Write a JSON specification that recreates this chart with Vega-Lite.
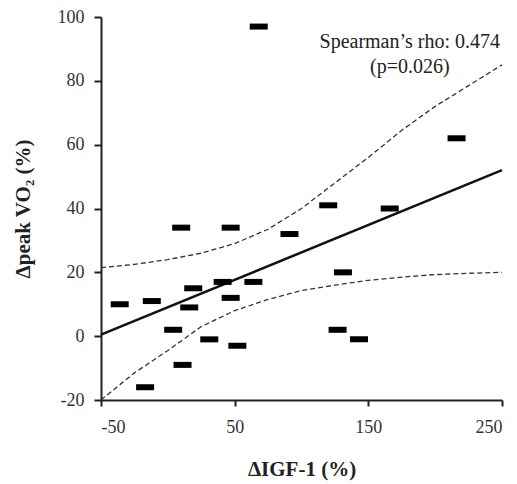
{
  "$schema": "https://vega.github.io/schema/vega-lite/v6.json",
  "width": 401,
  "height": 383,
  "autosize": {"type": "none"},
  "padding": {"left": 101, "top": 17, "right": 15, "bottom": 84},
  "background": "white",
  "config": {
    "view": {"stroke": null},
    "font": "Liberation Serif",
    "axis": {
      "grid": false,
      "domainColor": "#222",
      "domainWidth": 2,
      "tickColor": "#222",
      "tickWidth": 2,
      "tickSize": 7,
      "labelFont": "Liberation Serif",
      "labelFontSize": 18,
      "labelColor": "#333",
      "titleFont": "Liberation Serif",
      "titleFontSize": 21,
      "titleFontWeight": "bold",
      "titleColor": "#222"
    }
  },
  "datasets": {
    "points": [
      {"igf": 68, "vo2": 97},
      {"igf": 216, "vo2": 62},
      {"igf": 120, "vo2": 41},
      {"igf": 166, "vo2": 40},
      {"igf": 91, "vo2": 32},
      {"igf": 10, "vo2": 34},
      {"igf": 47, "vo2": 34},
      {"igf": -36, "vo2": 10},
      {"igf": -12, "vo2": 11},
      {"igf": 19, "vo2": 15},
      {"igf": 16, "vo2": 9},
      {"igf": 41, "vo2": 17},
      {"igf": 47, "vo2": 12},
      {"igf": 64, "vo2": 17},
      {"igf": 4, "vo2": 2},
      {"igf": 31, "vo2": -1},
      {"igf": 52, "vo2": -3},
      {"igf": 11, "vo2": -9},
      {"igf": -17, "vo2": -16},
      {"igf": 131, "vo2": 20},
      {"igf": 127, "vo2": 2},
      {"igf": 143, "vo2": -1}
    ],
    "fit": [
      {"igf": -50, "vo2": 0.5},
      {"igf": 250, "vo2": 52}
    ],
    "upper": [
      {"igf": -50, "vo2": 21.5},
      {"igf": -25, "vo2": 22.5},
      {"igf": 0, "vo2": 24},
      {"igf": 25, "vo2": 26},
      {"igf": 50, "vo2": 29},
      {"igf": 75, "vo2": 33.5},
      {"igf": 100, "vo2": 40},
      {"igf": 125, "vo2": 48},
      {"igf": 150, "vo2": 56},
      {"igf": 175, "vo2": 64.5},
      {"igf": 200, "vo2": 72},
      {"igf": 225, "vo2": 78.5},
      {"igf": 250, "vo2": 85}
    ],
    "lower": [
      {"igf": -50, "vo2": -20},
      {"igf": -25, "vo2": -11.5},
      {"igf": 0, "vo2": -4.5},
      {"igf": 25, "vo2": 3},
      {"igf": 50, "vo2": 8},
      {"igf": 75, "vo2": 11.5},
      {"igf": 100, "vo2": 14.3},
      {"igf": 125, "vo2": 16},
      {"igf": 150, "vo2": 17.5},
      {"igf": 175, "vo2": 18.5},
      {"igf": 200, "vo2": 19.3},
      {"igf": 225, "vo2": 19.7},
      {"igf": 250, "vo2": 20}
    ],
    "note": [
      {"igf": 181, "vo2": 92.2, "label": "Spearman’s rho: 0.474"},
      {"igf": 181, "vo2": 84.3, "label": "(p=0.026)"}
    ]
  },
  "encoding": {
    "x": {
      "field": "igf", "type": "quantitative",
      "scale": {"domain": [-50, 250], "nice": false, "zero": false},
      "axis": {"values": [-50, 50, 150, 250], "labelExpr": "datum.value + ''", "title": "ΔIGF-1 (%)", "labelPadding": 12, "titlePadding": 22, "tickSize": 6}
    },
    "y": {
      "field": "vo2", "type": "quantitative",
      "scale": {"domain": [-20, 100], "nice": false, "zero": false},
      "axis": {"values": [-20, 0, 20, 40, 60, 80, 100], "labelExpr": "datum.value + ''", "title": "Δpeak VO₂ (%)", "labelPadding": 10, "titlePadding": 24}
    }
  },
  "layer": [
    {
      "data": {"name": "upper"},
      "mark": {"type": "line", "color": "#333", "strokeWidth": 1.3, "strokeDash": [5, 3]}
    },
    {
      "data": {"name": "lower"},
      "mark": {"type": "line", "color": "#333", "strokeWidth": 1.3, "strokeDash": [5, 3]}
    },
    {
      "data": {"name": "fit"},
      "mark": {"type": "line", "color": "#111", "strokeWidth": 2.5}
    },
    {
      "data": {"name": "points"},
      "mark": {"type": "tick", "orient": "horizontal", "color": "#000", "size": 18, "thickness": 6, "opacity": 1}
    },
    {
      "data": {"name": "note"},
      "mark": {"type": "text", "font": "Liberation Serif", "fontSize": 20, "color": "#222", "align": "center", "baseline": "middle"},
      "encoding": {"text": {"field": "label"}}
    }
  ]
}
